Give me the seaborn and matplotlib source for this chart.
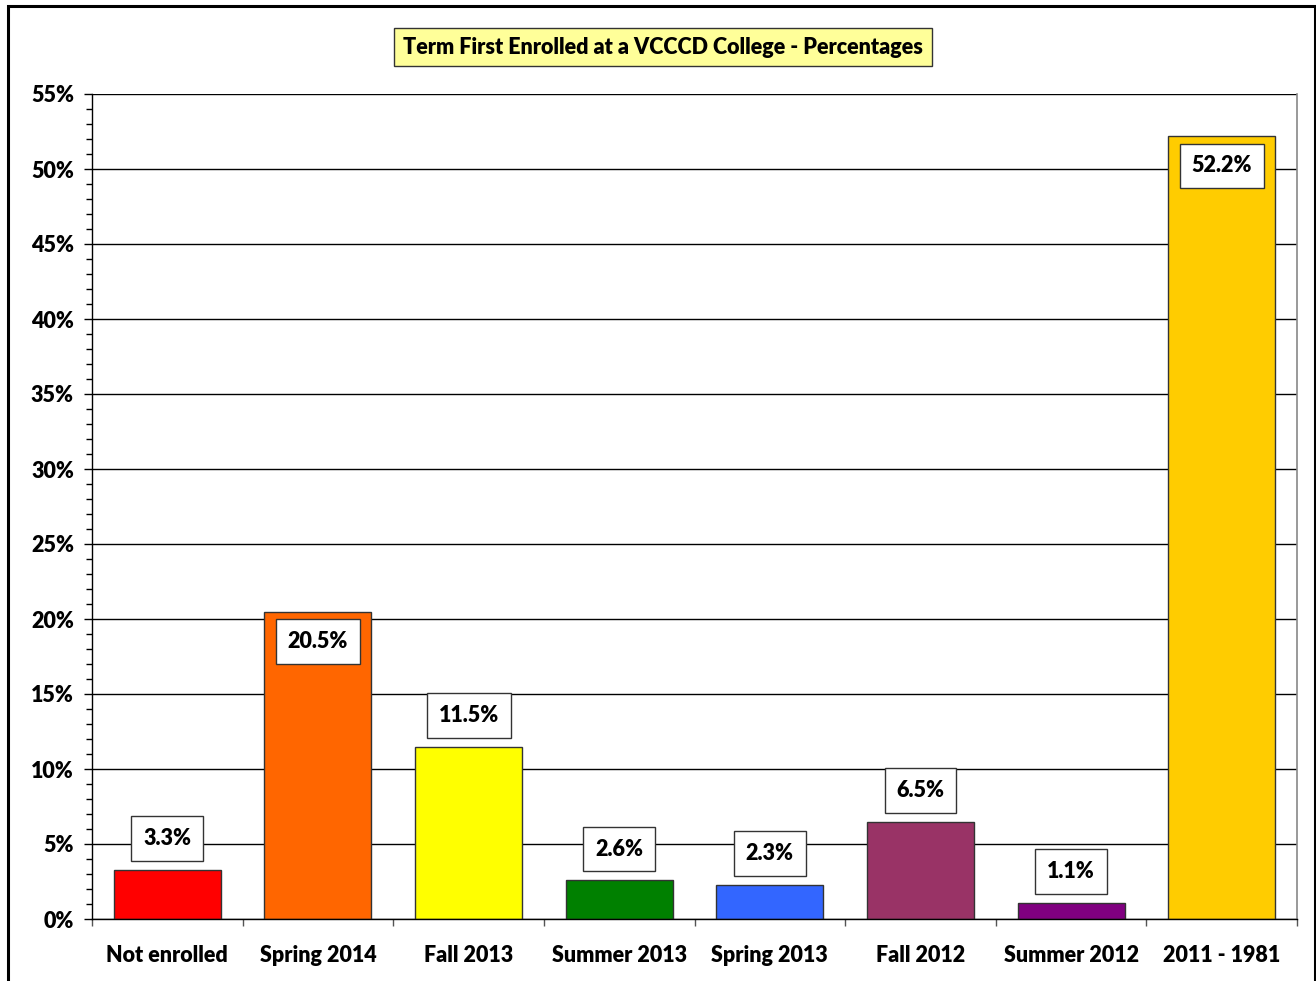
import matplotlib
matplotlib.use("Agg")
import matplotlib.pyplot as plt
import matplotlib.patches as mpatches
from matplotlib.ticker import MultipleLocator, FixedLocator, FuncFormatter
import seaborn as sns
import pandas as pd

categories = ["Not enrolled", "Spring 2014", "Fall 2013", "Summer 2013",
              "Spring 2013", "Fall 2012", "Summer 2012", "2011 - 1981"]
values = [3.3, 20.5, 11.5, 2.6, 2.3, 6.5, 1.1, 52.2]
colors = ["#FF0000", "#FF6600", "#FFFF00", "#008000",
          "#3366FF", "#993366", "#800080", "#FFCC00"]
label_inside = [False, True, False, False, False, False, False, True]
title = "Term First Enrolled at a VCCCD College - Percentages"

sns.set_theme(style="white")
plt.rcParams['font.family'] = ['Lato', 'DejaVu Sans']

FS = 15.5
FW = "heavy"

df = pd.DataFrame({"cat": categories, "val": values})

fig = plt.figure(figsize=(13.16, 9.81), dpi=100)
ax = fig.add_axes([92/1316, 1 - 919/981, (1297-92)/1316, (919-94)/981])

sns.barplot(data=df, x="cat", y="val", hue="cat", palette=colors, order=categories,
            hue_order=categories, legend=False, width=0.71, ax=ax,
            edgecolor="#333333", linewidth=1.0, saturation=1)

ax.set_xlim(-0.5, len(categories) - 0.5)
ax.set_ylim(0, 55)
ax.yaxis.set_major_locator(MultipleLocator(5))
ax.yaxis.set_minor_locator(MultipleLocator(1))
ax.yaxis.set_major_formatter(FuncFormatter(lambda v, p: f"{v:.0f}%"))
ax.grid(axis="y", which="major", color="#000000", linewidth=1.0)
ax.set_axisbelow(True)

ax.tick_params(axis="y", which="major", direction="out", length=6, width=1,
               color="black", labelsize=FS, pad=7, left=True)
ax.tick_params(axis="y", which="minor", direction="out", length=4, width=1,
               color="black", left=True)
ax.xaxis.set_minor_locator(FixedLocator([i - 0.5 for i in range(len(categories) + 1)]))
ax.tick_params(axis="x", which="major", length=0, labelsize=FS, pad=19)
ax.tick_params(axis="x", which="minor", direction="out", length=5, width=1,
               color="#555555", bottom=True)
for lab in ax.get_xticklabels() + ax.get_yticklabels():
    lab.set_fontweight(FW)
    lab.set_color("black")
ax.set_xlabel("")
ax.set_ylabel("")

for side in ["left", "bottom"]:
    ax.spines[side].set_color("black")
    ax.spines[side].set_linewidth(1.0)
ax.spines["right"].set_color("#888888")
ax.spines["right"].set_linewidth(1.2)
ax.spines["top"].set_visible(False)

for i, (v, inside) in enumerate(zip(values, label_inside)):
    off = -30 if inside else 31
    ax.annotate(f"{v:.1f}%", xy=(i, v), xytext=(0, off * 0.72), textcoords="offset points",
                ha="center", va="center", fontsize=FS, fontweight=FW, color="black",
                bbox=dict(boxstyle="square,pad=0.55", facecolor="white",
                          edgecolor="#333333", linewidth=1.0))

fig.text(663/1316, 1 - 47/981, title, ha="center", va="center", fontsize=FS,
         fontweight=FW, color="black",
         bbox=dict(boxstyle="square,pad=0.4", facecolor="#FFFF99",
                   edgecolor="#333333", linewidth=1.0))

fig.patches.append(mpatches.Rectangle((8/1316, -0.02), (1315-8)/1316, 1.02 - 6/981,
                                      transform=fig.transFigure, fill=False,
                                      edgecolor="black", linewidth=2.2))

fig.savefig("out.png", dpi=100, facecolor="white")
